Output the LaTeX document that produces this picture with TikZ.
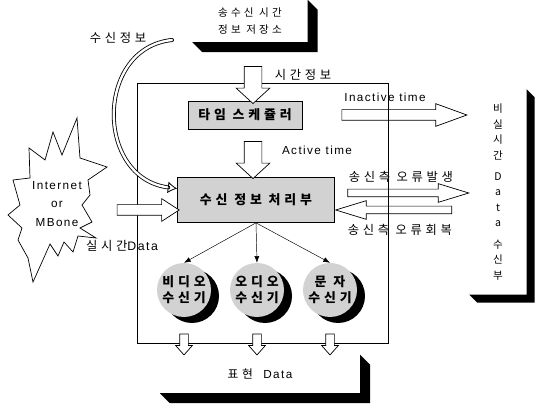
\documentclass[tikz,border=0pt]{standalone}
\usepackage{fontspec}
\setmainfont[LetterSpace=12]{Liberation Sans}
\newfontfamily\kr[LetterSpace=30]{Noto Sans CJK KR}
\usepackage{tikz}
\usetikzlibrary{positioning}
\usetikzlibrary{arrows.meta}
\usetikzlibrary{calc}
\usetikzlibrary{shapes.arrows}
\usetikzlibrary{shadows}

% black extruded edge below and right of a box
\newcommand{\boxshade}[2]{%
  \fill (#1.south west) -- ++(#2,#2) -- ($(#1.south east)+(#2,#2)$)
    -- ($(#1.north east)+(#2,#2)$) -- (#1.north east) -- (#1.south east) -- cycle;}

\tikzset{
  krlabel/.style={font=\kr\fontsize{10.5}{13}\selectfont, inner sep=1pt},
  enlabel/.style={font=\fontsize{10}{12}\selectfont, inner sep=1pt},
  storebox/.style={fill=white, inner sep=0pt, align=center},
  unitbox/.style={draw, semithick, fill=gray!35, inner sep=0pt, font=\kr\bfseries\fontsize{11}{13}\selectfont},
  recvunit/.style={circle, fill=gray!35, inner sep=0pt, minimum size=1.62cm, align=center,
    font=\kr\bfseries\fontsize{11}{13.5}\selectfont,
    drop shadow={shadow xshift=0.24cm, shadow yshift=-0.18cm, fill=black, opacity=1}},
  fatarrow/.style={single arrow, draw, semithick, fill=white, inner xsep=0pt},
}

\begin{document}
\begin{tikzpicture}[x=0.03cm, y=-0.03cm]
\useasboundingbox (0,0) rectangle (535,404);

% frame of the receiver
\coordinate (fnw) at (137,83);
\coordinate (fse) at (388,343);
\draw[semithick] (fnw) rectangle (fse);

\path (250,21) node[storebox, minimum width=3.45cm, minimum height=1.26cm, font=\kr\fontsize{9}{14.5}\selectfont] (store) {송수신 시간\\정보 저장소};
\boxshade{store}{10}

% Internet cloud
\draw[semithick, fill=white] (13,180) -- (30,178) -- (29,148) -- (45,160) -- (53,132) -- (62,155) -- (77,118) -- (80,158) -- (107,167) -- (88,180) -- (90,195) -- (82,205) -- (92,222) -- (80,228) -- (96,238) -- (78,236) -- (73,252) -- (64,242) -- (58,256) -- (50,244) -- (42,262) -- (33,282) -- (28,258) -- (18,240) -- (22,228) -- (8,215) -- (20,205) -- cycle;
\path (57,204) node[enlabel, align=center, font=\fontsize{10}{16}\selectfont] (inet) {Internet\\or\\MBone};

\path (118,38) node[krlabel] (infolbl) {수신정보};
\path (303,75) node[krlabel] (timelbl) {시간정보};
\path (385,97) node[enlabel] (inactlbl) {Inactive time};
\path (317,150) node[enlabel] (actlbl) {Active time};
\path (401,177) node[krlabel] (errlbl) {송신측 오류발생};
\path (400,230) node[krlabel] (reclbl) {송신측 오류회복};
\path (122,246) node[krlabel] (rtlbl) {실시간\rmfamily Data};

\path (245,115) node[unitbox, minimum width=3.42cm, minimum height=0.84cm] (sched) {타임 스케쥴러};
\path (256,200) node[unitbox, minimum width=4.71cm, minimum height=1.35cm] (proc) {수신 정보 처리부};
\path (184,290) node[recvunit] (video) {비디오\\수신기};
\path (257,290) node[recvunit] (audio) {오디오\\수신기};
\path (330,290) node[recvunit] (chars) {문 자\\수신기};

\path (498,192) node[storebox, minimum width=1.71cm, minimum height=6.15cm, font=\kr\fontsize{9}{13.2}\selectfont] (nrt) {비\\실\\시\\간\\[5pt]D\\a\\t\\a\\[5pt]수\\신\\부};
\boxshade{nrt}{8}
\path (260,374) node[storebox, minimum width=6cm, minimum height=1.14cm, font=\kr\fontsize{10}{12}\selectfont] (pres) {표현\hspace{0.9em}{\rmfamily Data}};
\boxshade{pres}{10}

% fat arrows
\path (253,81) node[fatarrow, rotate=-90, minimum height=1.11cm, inner ysep=0.255cm, single arrow head extend=0.24cm, single arrow tip angle=95] (a1) {};
\path (253,156) node[fatarrow, rotate=-90, minimum height=1.11cm, inner ysep=0.255cm, single arrow head extend=0.24cm, single arrow tip angle=95] (a2) {};
\path (397,115) node[fatarrow, minimum height=3.75cm, inner ysep=0.15cm, single arrow head extend=0.18cm, single arrow tip angle=40] (a3) {};
\path (402,193) node[fatarrow, minimum height=3.63cm, inner ysep=0.105cm, single arrow head extend=0.165cm, single arrow tip angle=34] (a4) {};
\path (400,210) node[fatarrow, rotate=180, minimum height=3.48cm, inner ysep=0.105cm, single arrow head extend=0.165cm, single arrow tip angle=34] (a5) {};
\path (144,210) node[fatarrow, minimum height=1.86cm, inner ysep=0.15cm, single arrow head extend=0.18cm, single arrow tip angle=66] (a6) {};
\path (184,342) node[fatarrow, rotate=-90, minimum height=0.63cm, inner ysep=0.12cm, single arrow head extend=0.12cm, single arrow tip angle=83] (a7) {};
\path (257,342) node[fatarrow, rotate=-90, minimum height=0.63cm, inner ysep=0.12cm, single arrow head extend=0.12cm, single arrow tip angle=83] (a8) {};
\path (330,342) node[fatarrow, rotate=-90, minimum height=0.63cm, inner ysep=0.12cm, single arrow head extend=0.12cm, single arrow tip angle=83] (a9) {};

\draw[-{Latex[length=2mm]}] (proc.south) to (video.north);
\draw[-{Latex[length=2mm]}] (proc.south) to (audio.north);
\draw[-{Latex[length=2mm]}] (proc.south) to (chars.north);

\coordinate (infotail) at (172,40);
\draw[double, double distance=2pt, line width=0.7pt, line cap=round, -{Latex[open, length=8pt, width=10pt]}] (infotail) .. controls (95,48) and (95,178) .. ($(proc.north west)!0.25!(proc.south west)$);

\draw[semithick] (fse |- fnw) -- (fse);

\end{tikzpicture}
\end{document}
